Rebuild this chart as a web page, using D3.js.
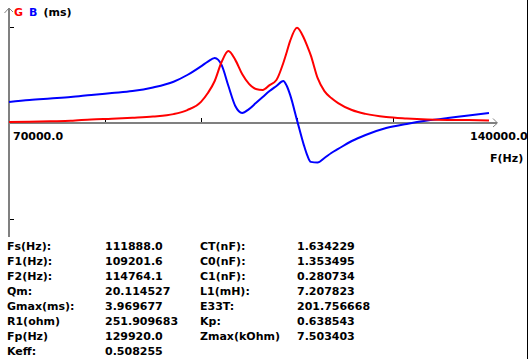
<!DOCTYPE html>
<html>
<head>
<meta charset="utf-8">
<script src="https://cdn.jsdelivr.net/npm/d3@7"></script>
<style>
  body { margin: 0; background: #fff; }
  svg text { font-family: "DejaVu Sans", sans-serif; font-weight: bold; font-size: 11px; }
</style>
</head>
<body>
<svg id="chart"></svg>
<script>
// frequency points (kHz)
const freq = [70, 73, 76, 79, 82, 85, 88, 91, 94, 96, 98, 99, 100, 101, 102, 103, 104, 105, 106, 107,
  108, 109, 110, 110.5, 111, 112, 113, 113.5, 114, 115, 116, 117, 118, 120, 122, 125, 128, 131, 134, 137, 140];
// conductance G (ms)
const gVals = [0.04, 0.05, 0.07, 0.09, 0.15, 0.18, 0.22, 0.27, 0.37, 0.54, 0.88, 1.25, 1.75, 2.54, 3.0, 2.63, 2.04, 1.63, 1.42, 1.38,
  1.58, 1.79, 2.5, 2.95, 3.42, 3.97, 3.54, 3.2, 2.83, 1.88, 1.33, 1.04, 0.83, 0.54, 0.38, 0.25, 0.19, 0.15, 0.13, 0.12, 0.10];
// susceptance B (ms)
const bVals = [0.88, 0.96, 1.02, 1.08, 1.17, 1.25, 1.33, 1.48, 1.72, 2.0, 2.36, 2.56, 2.71, 2.42, 1.54, 0.71, 0.42, 0.58, 0.83, 1.08,
  1.33, 1.54, 1.75, 1.55, 1.17, 0.12, -0.92, -1.35, -1.62, -1.65, -1.46, -1.25, -1.08, -0.75, -0.5, -0.21, -0.04, 0.10, 0.21, 0.31, 0.42];

const xTicks = [84000, 98000, 112000, 126000];
const yTicks = [-4, 4];

const paramLabels1 = ['Fs(Hz):', 'F1(Hz):', 'F2(Hz):', 'Qm:', 'Gmax(ms):', 'R1(ohm)', 'Fp(Hz)', 'Keff:'];
const paramValues1 = ['111888.0', '109201.6', '114764.1', '20.114527', '3.969677', '251.909683', '129920.0', '0.508255'];
const paramLabels2 = ['CT(nF):', 'C0(nF):', 'C1(nF):', 'L1(mH):', 'E33T:', 'Kp:', 'Zmax(kOhm)'];
const paramValues2 = ['1.634229', '1.353495', '0.280734', '7.207823', '201.756668', '0.638543', '7.503403'];

const W = 528, H = 359;
const svg = d3.select('#chart').attr('width', W).attr('height', H);

const xScale = d3.scaleLinear().domain([70000, 140000]).range([9, 489]);
const yScale = d3.scaleLinear().domain([-4, 4]).range([219, 27]);
const y0 = yScale(0);
const axisColor = '#808080';

// axes lines
svg.append('line').attr('x1', 9).attr('x2', 9).attr('y1', 8).attr('y2', 237)
  .attr('stroke', axisColor).attr('stroke-width', 2);
svg.append('path').attr('d', 'M4.5,13 L9,8 L13,12').attr('fill', 'none')
  .attr('stroke', axisColor).attr('stroke-width', 1);
svg.append('line').attr('x1', 9).attr('x2', 497).attr('y1', y0).attr('y2', y0)
  .attr('stroke', axisColor).attr('stroke-width', 2);
svg.append('path').attr('d', `M493,${y0 - 4.5} L497.5,${y0} L493,${y0 + 4}`).attr('fill', 'none')
  .attr('stroke', axisColor).attr('stroke-width', 1);

// ticks
const xAxis = d3.axisTop(xScale).tickValues(xTicks).tickSize(4).tickFormat('');
svg.append('g').attr('transform', `translate(0, ${y0 - 1})`).call(xAxis)
  .call(g => g.select('.domain').remove())
  .call(g => g.selectAll('.tick line').attr('stroke', '#000'));
const yAxis = d3.axisRight(yScale).tickValues(yTicks).tickSize(4).tickFormat('');
svg.append('g').attr('transform', 'translate(10, 0)').call(yAxis)
  .call(g => g.select('.domain').remove())
  .call(g => g.selectAll('.tick line').attr('stroke', '#000'));

// curves
const rows = freq.map((f, i) => ({ f: f * 1000, g: gVals[i], b: bVals[i] }));
const lineG = d3.line().x(d => xScale(d.f)).y(d => yScale(d.g)).curve(d3.curveMonotoneX);
const lineB = d3.line().x(d => xScale(d.f)).y(d => yScale(d.b)).curve(d3.curveMonotoneX);
svg.append('path').datum(rows).attr('d', lineB).attr('fill', 'none')
  .attr('stroke', '#0000ff').attr('stroke-width', 2);
svg.append('path').datum(rows).attr('d', lineG).attr('fill', 'none')
  .attr('stroke', '#ff0000').attr('stroke-width', 2);

// axis titles
const title = svg.append('text').attr('x', 14).attr('y', 16);
title.append('tspan').attr('fill', '#ff0000').text('G');
title.append('tspan').attr('fill', '#0000ff').attr('dx', 6).text('B');
title.append('tspan').attr('fill', '#000').attr('dx', 6).text('(ms)');

svg.append('text').attr('x', xScale(70000) + 4).attr('y', 140).text('70000.0');
svg.append('text').attr('x', xScale(140000) - 19).attr('y', 140).text('140000.0');
svg.append('text').attr('x', 490).attr('y', 162).text('F(Hz)');

// parameter table
const rowY = i => 250 + i * 15;
svg.selectAll('.l1').data(paramLabels1).enter().append('text')
  .attr('x', 7).attr('y', (d, i) => rowY(i)).text(d => d);
svg.selectAll('.v1').data(paramValues1).enter().append('text')
  .attr('x', 105).attr('y', (d, i) => rowY(i)).text(d => d);
svg.selectAll('.l2').data(paramLabels2).enter().append('text')
  .attr('x', 200).attr('y', (d, i) => rowY(i)).text(d => d);
svg.selectAll('.v2').data(paramValues2).enter().append('text')
  .attr('x', 297).attr('y', (d, i) => rowY(i)).text(d => d);

// right frame edge
svg.append('line').attr('x1', 527.5).attr('x2', 527.5).attr('y1', 0).attr('y2', H)
  .attr('stroke', '#000').attr('stroke-width', 1);
</script>
</body>
</html>
